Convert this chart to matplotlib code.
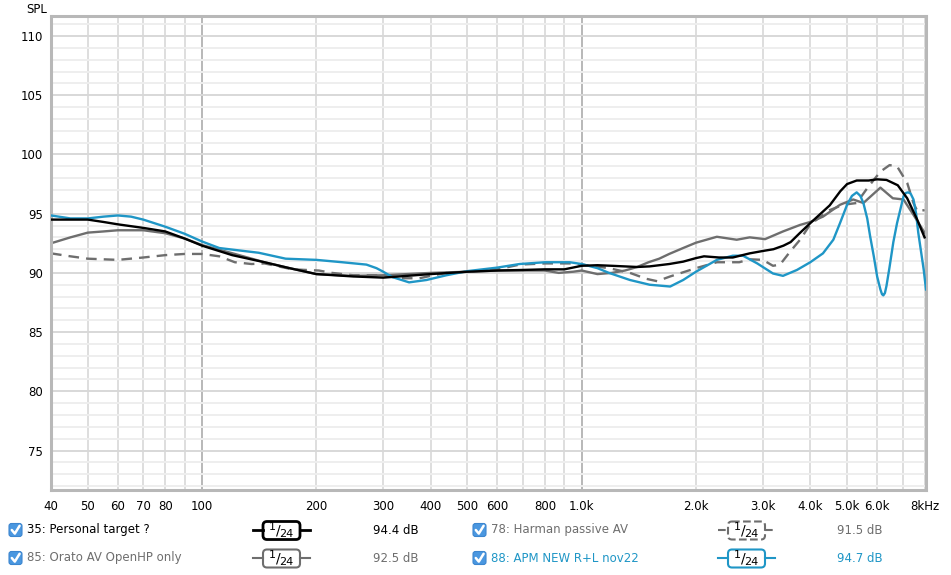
import matplotlib
matplotlib.use("Agg")
from matplotlib import pyplot as plt
from matplotlib.patches import FancyBboxPatch
from matplotlib.lines import Line2D

# ---- data ----
target_f = [40, 45, 50, 55, 60, 70, 80, 90, 100, 120, 146, 170, 200, 250, 300, 400, 500,
            600, 700, 800, 900, 1000, 1100, 1200, 1400, 1510, 1700, 1850, 2000, 2100, 2300,
            2500, 2770, 3000, 3200, 3400, 3550, 3750, 4000, 4500, 4800, 5000, 5300, 5700,
            6000, 6350, 6800, 7200, 7650, 8000]
target_db = [94.5, 94.5, 94.5, 94.3, 94.1, 93.8, 93.5, 92.9, 92.3, 91.5, 90.9, 90.4, 89.9,
             89.7, 89.6, 89.9, 90.1, 90.2, 90.25, 90.3, 90.3, 90.6, 90.65, 90.6, 90.5, 90.55,
             90.75, 90.95, 91.25, 91.4, 91.3, 91.3, 91.65, 91.85, 92.0, 92.3, 92.6, 93.35,
             94.2, 95.7, 96.9, 97.5, 97.8, 97.8, 97.9, 97.85, 97.4, 96.3, 94.5, 93.0]

orato_f = [40, 45, 50, 55, 60, 70, 80, 90, 100, 122, 146, 170, 200, 250, 300, 400, 500, 600,
           700, 800, 870, 950, 1000, 1100, 1200, 1300, 1400, 1500, 1600, 1700, 1850, 2000,
           2270, 2560, 2770, 3040, 3390, 3760, 4000, 4320, 4790, 5190, 5520, 6120, 6600,
           7040, 7480, 8000]
orato_db = [92.5, 93.0, 93.4, 93.5, 93.6, 93.6, 93.35, 92.9, 92.35, 91.6, 90.9, 90.4, 89.9,
            89.75, 89.8, 90.0, 90.1, 90.2, 90.2, 90.2, 90.0, 90.1, 90.2, 89.9, 90.0, 90.2,
            90.5, 90.9, 91.2, 91.6, 92.1, 92.55, 93.05, 92.8, 93.0, 92.85, 93.5, 94.05, 94.3,
            94.75, 95.75, 96.2, 95.9, 97.2, 96.3, 96.2, 94.9, 93.4]

harman_f = [40, 45, 50, 60, 70, 80, 90, 100, 111, 122, 135, 146, 173, 203, 220, 250, 300,
            331, 374, 400, 440, 500, 600, 686, 800, 930, 1000, 1180, 1340, 1480, 1580, 1710,
            2000, 2270, 2600, 2770, 3000, 3190, 3330, 3540, 3760, 4000, 4500, 4880, 5300,
            5650, 6120, 6470, 6770, 7200, 7480, 7660, 8000]
harman_db = [91.65, 91.4, 91.2, 91.1, 91.3, 91.5, 91.6, 91.6, 91.4, 90.9, 90.75, 90.8, 90.3,
             90.2, 90.0, 89.8, 89.8, 89.55, 89.55, 89.75, 90.0, 90.1, 90.3, 90.7, 90.8, 90.8,
             90.7, 90.4, 90.0, 89.5, 89.3, 89.7, 90.4, 90.9, 90.9, 91.15, 91.1, 90.6, 90.7,
             91.8, 92.8, 94.1, 95.3, 95.75, 95.9, 97.15, 98.55, 99.1, 99.0, 97.6, 95.9, 95.2,
             95.3]

apm_f = [40, 45, 50, 55, 60, 65, 70, 80, 90, 100, 111, 125, 141, 166, 200, 234, 271, 288,
         300, 317, 351, 390, 440, 500, 600, 686, 800, 930, 1000, 1100, 1180, 1340, 1510,
         1710, 1850, 2000, 2270, 2500, 2660, 2900, 3190, 3390, 3690, 4000, 4320, 4600, 4790,
         5000, 5150, 5300, 5420, 5520, 5650, 5750, 5880, 6000, 6120, 6180, 6230, 6290, 6350,
         6470, 6620, 6770, 7040, 7140, 7240, 7350, 7480, 7600, 7700, 7960, 8070]
apm_db = [94.85, 94.6, 94.6, 94.75, 94.85, 94.75, 94.5, 93.9, 93.3, 92.65, 92.1, 91.9, 91.7,
          91.2, 91.1, 90.9, 90.7, 90.4, 90.1, 89.65, 89.2, 89.4, 89.8, 90.15, 90.45, 90.75,
          90.9, 90.9, 90.75, 90.4, 90.0, 89.4, 89.0, 88.85, 89.4, 90.1, 91.1, 91.45, 91.45,
          90.8, 89.95, 89.75, 90.25, 90.9, 91.65, 92.8, 94.2, 95.75, 96.5, 96.8, 96.5, 95.9,
          94.6, 93.1, 91.4, 89.7, 88.6, 88.2, 88.1, 88.3, 88.9, 90.5, 92.6, 94.2, 96.45, 96.75,
          96.8, 96.7, 96.2, 95.0, 93.4, 90.25, 88.6]

x_ticks = [40, 50, 60, 70, 80, 100, 200, 300, 400, 500, 600, 800, 1000, 2000, 3000, 4000,
           5000, 6000, 8000]
x_labels = ["40", "50", "60", "70", "80", "100", "200", "300", "400", "500", "600", "800",
            "1.0k", "2.0k", "3.0k", "4.0k", "5.0k", "6.0k", "8kHz"]
y_labels = [75, 80, 85, 90, 95, 100, 105, 110]

legend_names = ["35: Personal target ?", "85: Orato AV OpenHP only",
                "78: Harman passive AV", "88: APM NEW R+L nov22"]
legend_levels = ["94.4 dB", "92.5 dB", "91.5 dB", "94.7 dB"]

BLUE = "#1f96c6"
GRAY = "#6e6e6e"
W, H = 951, 575

fig = plt.figure(figsize=(W / 100, H / 100), dpi=100)
ax = fig.add_axes([51 / W, 1 - 490 / H, (926 - 51) / W, (490 - 16) / H])
ax.set_xscale("log")
ax.set_xlim(40, 8070)
ax.set_ylim(71.67, 111.69)

# grid: every 1..9 per decade, every 1 dB
grid_x = [m * 10 ** e for e in range(1, 4) for m in range(1, 10) if 40 <= m * 10 ** e <= 8000]
for gx in grid_x:
    decade = gx in (100, 1000)
    ax.axvline(gx, color="#b8b8b8" if decade else "#dedede", lw=1.4, zorder=0)
for gy in range(72, 112):
    ax.axhline(gy, color="#d8d8d8" if gy % 5 == 0 else "#eeeeee", lw=1.4, zorder=0)

ax.plot(apm_f, apm_db, color=BLUE, lw=1.7, zorder=3)
ax.plot(orato_f, orato_db, color=GRAY, lw=1.7, zorder=2)
ax.plot(harman_f, harman_db, color=GRAY, lw=1.7, ls=(0, (4.5, 3)), zorder=2)
ax.plot(target_f, target_db, color="black", lw=1.7, zorder=4)

ax.xaxis.set_minor_locator(matplotlib.ticker.NullLocator())
ax.set_xticks(x_ticks)
ax.set_xticklabels(x_labels)
ax.set_yticks(y_labels)
ax.set_yticklabels([str(v) for v in y_labels])
ax.tick_params(length=0, labelsize=8.5, colors="black")
ax.tick_params(axis="x", pad=7)
ax.tick_params(axis="y", pad=6)
for s in ax.spines.values():
    s.set_color("#b8b8b8")
    s.set_linewidth(2.2)

fig.text(47 / W, 1 - 3 / H, "SPL", ha="right", va="top", fontsize=8.5)

# ---- legend below the chart, drawn in pixel coordinates ----
ov = fig.add_axes([0, 0, 1, 1], facecolor="none")
ov.set_xlim(0, W)
ov.set_ylim(H, 0)
ov.axis("off")

name_colors = ["black", GRAY, GRAY, BLUE]
line_styles = ["-", "-", "--", "-"]
line_colors = ["black", GRAY, GRAY, BLUE]
cols = [0, 0, 1, 1]
rows = [0, 1, 0, 1]

for i in range(4):
    cx = 464 * cols[i]
    cy = [530, 558][rows[i]]
    # checkbox
    ov.add_patch(FancyBboxPatch((9 + cx, cy - 6.5), 13, 13,
                                boxstyle="round,pad=0,rounding_size=2.5",
                                fc="#4a97e0", ec="#3d86cf", lw=0.8))
    ov.plot([11.8 + cx, 14.8 + cx, 19.6 + cx], [cy, cy + 3.6, cy - 4.2],
            color="white", lw=1.8, solid_capstyle="round")
    ov.text(27 + cx, cy, legend_names[i], color=name_colors[i], fontsize=8.5,
            va="center", ha="left")
    # smoothing symbol
    sx = [253, 718][cols[i]]
    lw = 2.0 if i == 0 else 1.5
    ls = line_styles[i]
    c = line_colors[i]
    ov.add_line(Line2D([sx, sx + 10], [cy, cy], color=c, lw=lw, ls=ls))
    ov.add_line(Line2D([sx + 47, sx + 57], [cy, cy], color=c, lw=lw, ls=ls))
    ov.add_patch(FancyBboxPatch((sx + 10, cy - 8.5), 37, 18,
                                boxstyle="round,pad=0,rounding_size=4",
                                fc="white", ec=c, lw=lw, ls=ls))
    ov.text(sx + 19, cy - 2.5, "1", color="black", fontsize=8, ha="center", va="center")
    ov.text(sx + 25, cy, "/", color="black", fontsize=10, ha="center", va="center")
    ov.text(sx + 33, cy + 4, "24", color="black", fontsize=8, ha="center", va="center")
    # level
    lx = [373, 837][cols[i]]
    ov.text(lx, cy, legend_levels[i], color=name_colors[i], fontsize=8.5,
            va="center", ha="left")

fig.savefig("out.png", dpi=100)
